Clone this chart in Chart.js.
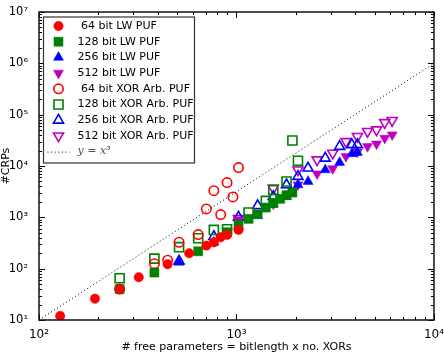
<!DOCTYPE html>
<html>
<head>
<meta charset="utf-8">
<script src="https://cdn.jsdelivr.net/npm/chart.js@4.4.1/dist/chart.umd.min.js"></script>
<style>
html,body{margin:0;padding:0;background:#fff;}
#wrap{width:444px;height:356px;position:relative;}
</style>
</head>
<body>
<div id="wrap"><canvas id="c" width="444" height="356"></canvas></div>
<script>
// ---- data (x = # free parameters, y = #CRPs) ----
const seriesNames = ['64 bit LW PUF','128 bit LW PUF','256 bit LW PUF','512 bit LW PUF',
  '64 bit XOR Arb. PUF','128 bit XOR Arb. PUF','256 bit XOR Arb. PUF','512 bit XOR Arb. PUF'];
const lw64 = [[128,12],[192,26],[256,40],[320,68],[448,122],[576,200],[704,281],[768,326],[832,410],[896,455],[1024,569]];
const lw128 = [[256,40],[384,84],[640,218],[896,513],[1024,720],[1152,933],[1280,1150],[1408,1550],[1536,1900],[1664,2290],[1792,2700],[1920,3040]];
const lw256 = [[512,133],[768,327],[1024,660],[1280,1080],[1536,1800],[1792,2540],[2048,4300],[2304,4990],[2816,8410],[3328,11700],[3840,17300],[4096,18300]];
const lw512 = [[1024,890],[1536,1830],[2048,4300],[2560,7040],[3072,8900],[3584,15300],[4096,18800],[4608,24000],[5120,27000],[5632,34900],[6144,40500]];
const xor64 = [[256,40],[384,125],[448,146],[512,327],[640,461],[704,1460],[768,3300],[832,1130],[896,4750],[960,2500],[1024,9300]];
const xor128 = [[256,65],[384,157],[512,262],[640,392],[768,569],[896,586],[1152,1240],[1408,2090],[1536,3430],[1792,5000],[1920,31400],[2048,12600]];
const xor256 = [[512,140],[768,422],[1024,1005],[1280,1690],[1536,2540],[1792,4300],[2048,6240],[2304,9080],[2816,14200],[3328,24000],[3840,26000],[4096,26000]];
const xor512 = [[1024,950],[1536,3690],[2048,8410],[2560,13200],[3072,17800],[3584,30000],[4096,37600],[4608,47100],[5120,50700],[5632,70400],[6144,77100]];
const refLine = [[100,10],[10000,1000000]];
const refLabel = 'y = x³';
const xTickPowers = [2,3,4];
const yTickPowers = [1,2,3,4,5,6,7];
const xTitle = '# free parameters = bitlength x no. XORs';
const yTitle = '#CRPs';

const RED='#ff0000', GREEN='#008000', BLUE='#0000ff', MAG='#bf00bf';
const toPts = a => a.map(p => ({x:p[0], y:p[1]}));
const sup = {'0':'⁰','1':'¹','2':'²','3':'³','4':'⁴','5':'⁵','6':'⁶','7':'⁷','8':'⁸','9':'⁹'};

function filled(label, data, color, style, r, rot){
  return {label, data:toPts(data), showLine:false, pointStyle:style, pointRadius:r, pointHoverRadius:r,
    pointRotation:rot||0, backgroundColor:color, borderColor:color, pointBorderWidth:0.5};
}
function hollow(label, data, color, style, r, rot){
  return {label, data:toPts(data), showLine:false, pointStyle:style, pointRadius:r, pointHoverRadius:r,
    pointRotation:rot||0, backgroundColor:'rgba(0,0,0,0)', borderColor:color, pointBorderWidth:1.6};
}

const datasets = [
  filled(seriesNames[0], lw64, RED, 'circle', 4.7),
  filled(seriesNames[1], lw128, GREEN, 'rect', 6.4),
  filled(seriesNames[2], lw256, BLUE, 'triangle', 5.8),
  filled(seriesNames[3], lw512, MAG, 'triangle', 5.8, 180),
  hollow(seriesNames[4], xor64, RED, 'circle', 4.7),
  hollow(seriesNames[5], xor128, GREEN, 'rect', 6.4),
  hollow(seriesNames[6], xor256, BLUE, 'triangle', 5.8),
  hollow(seriesNames[7], xor512, MAG, 'triangle', 5.8, 180),
  {label:refLabel, data:toPts(refLine), showLine:true, pointRadius:0, borderColor:'#000', borderWidth:1,
   borderDash:[1,2.6], fill:false}
];

function logTicks(minP, maxP){
  const t=[];
  for(let p=minP;p<maxP;p++){ for(let m=1;m<10;m++) t.push({value:m*Math.pow(10,p)}); }
  t.push({value:Math.pow(10,maxP)});
  return t;
}
function isPow(v){ const l=Math.log10(v); return Math.abs(l-Math.round(l))<1e-9; }
function powLabel(v){ const l=Math.round(Math.log10(v)); return '10'+String(l).split('').map(c=>sup[c]).join(''); }

const framePlugin = {
  id:'frame',
  afterDatasetsDraw(chart){
    const {ctx, chartArea:a, scales:{x,y}} = chart;
    ctx.save();
    ctx.strokeStyle='#000'; ctx.lineWidth=1;
    x.ticks.forEach(t=>{
      const px=Math.round(x.getPixelForValue(t.value))+0.5;
      const L=isPow(t.value)?6:3;
      ctx.beginPath(); ctx.moveTo(px,a.bottom); ctx.lineTo(px,a.bottom-L);
      ctx.moveTo(px,a.top); ctx.lineTo(px,a.top+L); ctx.stroke();
    });
    y.ticks.forEach(t=>{
      const py=Math.round(y.getPixelForValue(t.value))+0.5;
      const L=isPow(t.value)?6:3;
      ctx.beginPath(); ctx.moveTo(a.left,py); ctx.lineTo(a.left+L,py);
      ctx.moveTo(a.right,py); ctx.lineTo(a.right-L,py); ctx.stroke();
    });
    ctx.lineWidth=1.5; ctx.strokeStyle='#111';
    ctx.strokeRect(a.left, a.top, a.right-a.left, a.bottom-a.top);
    ctx.restore();
  },
  afterDraw(chart){
    const {ctx, chartArea:a} = chart;
    const bx=a.left+4.5, by=a.top+5, bw=151, bh=146;
    ctx.save();
    ctx.fillStyle='#fff'; ctx.fillRect(bx,by,bw,bh);
    ctx.strokeStyle='#333'; ctx.lineWidth=1.2; ctx.strokeRect(bx,by,bw,bh);
    const drawPoint = Chart.helpers && Chart.helpers.drawPoint;
    const rowH=15.7;
    chart.data.datasets.forEach((ds,i)=>{
      const cy = by + 9 + i*rowH;
      const cx = bx + 15;
      if(ds.showLine){
        ctx.save(); ctx.strokeStyle='#000'; ctx.lineWidth=1; ctx.setLineDash([1,2.6]);
        ctx.beginPath(); ctx.moveTo(bx+4,cy+0.5); ctx.lineTo(bx+26,cy+0.5); ctx.stroke(); ctx.restore();
        ctx.fillStyle='#555'; ctx.font='italic 11px "DejaVu Serif", serif'; ctx.textBaseline='middle';
        ctx.fillText(ds.label, bx+34, cy);
      } else {
        ctx.save();
        ctx.fillStyle=ds.backgroundColor; ctx.strokeStyle=ds.borderColor; ctx.lineWidth=ds.pointBorderWidth;
        drawPoint(ctx, {pointStyle:ds.pointStyle, rotation:ds.pointRotation, radius:ds.pointRadius, borderWidth:ds.pointBorderWidth}, cx, cy);
        ctx.restore();
        ctx.fillStyle='#000'; ctx.font='11px "DejaVu Sans", sans-serif'; ctx.textBaseline='middle';
        const lab = ds.label.startsWith('64') ? ' '+ds.label : ds.label;
        ctx.fillText(lab, bx+34, cy);
      }
    });
    ctx.restore();
  }
};

Chart.defaults.font.family='"DejaVu Sans", sans-serif';
Chart.defaults.color='#000';

new Chart(document.getElementById('c'), {
  type:'scatter',
  data:{datasets},
  options:{
    responsive:false, animation:false, devicePixelRatio:1,
    layout:{padding:{top:12,right:8,left:0,bottom:0}},
    plugins:{legend:{display:false}, tooltip:{enabled:false}},
    scales:{
      x:{type:'logarithmic', min:100, max:10000,
        afterBuildTicks:s=>{s.ticks=logTicks(xTickPowers[0], xTickPowers[xTickPowers.length-1]);},
        afterFit:s=>{s.height=36;},
        grid:{display:false}, border:{display:false},
        ticks:{autoSkip:false, maxRotation:0, padding:0, font:{size:12},
          callback:(v)=>isPow(v)?powLabel(v):''},
        title:{display:true, text:xTitle, font:{size:11}, padding:{top:0,bottom:2}}
      },
      y:{type:'logarithmic', min:10, max:1e7,
        afterBuildTicks:s=>{s.ticks=logTicks(yTickPowers[0], yTickPowers[yTickPowers.length-1]);},
        afterFit:s=>{s.width=39;},
        grid:{display:false}, border:{display:false},
        ticks:{autoSkip:false, padding:3, font:{size:11.5},
          callback:(v)=>isPow(v)?powLabel(v):''},
        title:{display:true, text:yTitle, font:{size:11}, padding:{top:0,bottom:0}}
      }
    }
  },
  plugins:[framePlugin]
});
</script>
</body>
</html>
